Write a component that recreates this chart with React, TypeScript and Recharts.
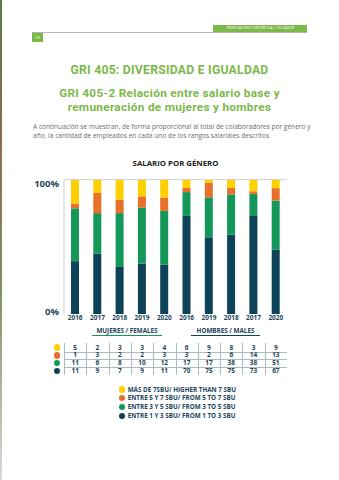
import React from "react";
import { BarChart, Bar, XAxis, YAxis, ReferenceLine } from "recharts";

// ---- DATA (table order, as printed under the chart) ----
const tableLabels = ["2016", "2017", "2018", "2019", "2020", "2016", "2019", "2018", "2017", "2020"];
const yellowVals = [5, 2, 3, 3, 4, 6, 9, 8, 3, 9]; // > 7 SBU
const orangeVals = [1, 3, 2, 2, 3, 3, 2, 6, 14, 13]; // 5 - 7 SBU
const greenVals = [11, 6, 8, 10, 12, 17, 17, 38, 38, 51]; // 3 - 5 SBU
const navyVals = [11, 9, 7, 9, 11, 70, 75, 75, 73, 67]; // 1 - 3 SBU
// the bars in the picture take their values from these table columns
const barColumns = [0, 1, 2, 3, 4, 5, 8, 7, 6, 9];
const groupLabels = ["MUJERES / FEMALES", "HOMBRES / MALES"];
const yTicks = [0, 1];

const seriesNames = [
  "MÁS DE 7SBU/ HIGHER THAN 7 SBU",
  "ENTRE 5 Y 7 SBU/ FROM 5 TO 7 SBU",
  "ENTRE 3 Y 5 SBU/ FROM 3 TO 5 SBU",
  "ENTRE 1 Y 3 SBU/ FROM 1 TO 3 SBU",
];

const YELLOW = "#fdd000";
const ORANGE = "#e8702a";
const GREEN = "#13985a";
const NAVY = "#0e4259";
const TXT = "#1c4559";
const LIME = "#7cb84a";
const colors = [YELLOW, ORANGE, GREEN, NAVY];
const tableRows = [yellowVals, orangeVals, greenVals, navyVals];

const chartData = barColumns.map((c, i) => ({
  key: "b" + i,
  label: tableLabels[i],
  navy: navyVals[c],
  green: greenVals[c],
  orange: orangeVals[c],
  yellow: yellowVals[c],
}));

const FONT = "'Open Sans', 'DejaVu Sans', sans-serif";
const TITLE_FONT = "Roboto, 'Open Sans', sans-serif";
const PLOT_L = 64;
const PLOT_R = 287;
const band = (PLOT_R - PLOT_L) / 10;
const cx = (i: number) => PLOT_L + band * (i + 0.5);

const YTick = (props: any) => {
  const { x, y, payload } = props;
  const v = payload.value;
  return (
    <text
      x={x}
      y={y + (v === 1 ? 4 : -3)}
      textAnchor="end"
      dominantBaseline="central"
      fontFamily={FONT}
      fontWeight={700}
      fontSize={9.5}
      fill={TXT}
    >
      {Math.round(v * 100)}%
    </text>
  );
};

const abs = (o: React.CSSProperties): React.CSSProperties => ({ position: "absolute", ...o });

const centered = (cy: number, size: number, color: string, extra: React.CSSProperties = {}): React.CSSProperties =>
  abs({ left: 0, width: 339, top: cy - (size + 1) / 2, textAlign: "center", color, fontWeight: 700, fontSize: size, lineHeight: `${size + 1}px`, whiteSpace: "nowrap", ...extra });

export default function App() {
  return (
    <div style={abs({ left: 0, top: 0, width: 339, height: 480, background: "#fff", overflow: "hidden", fontFamily: FONT })}>
      {/* page edge */}
      <div style={abs({ left: 0, top: 0, width: 2, height: 480, background: "linear-gradient(#5f7a45, #8a6f50 30%, #7f8f60 60%, #d8d8d8)" })} />
      {/* header */}
      <div style={abs({ left: 32, top: 31.5, width: 275, height: 1.5, background: "#b3b3b3" })} />
      <div style={abs({ left: 213, top: 25.3, width: 94, height: 6.5, background: LIME, color: "#fff", fontSize: 3.6, lineHeight: "6.5px", textAlign: "center", whiteSpace: "nowrap" })}>
        TROPICALFRUIT EXPORT S.A. | ECUADOR
      </div>
      <div style={abs({ left: 32, top: 32.5, width: 11, height: 9, background: LIME, color: "#fff", fontSize: 4, lineHeight: "9px", textAlign: "center" })}>
        50
      </div>
      {/* titles */}
      <div style={centered(71, 12.2, LIME, { fontFamily: TITLE_FONT, letterSpacing: 0.25 })}>GRI 405: DIVERSIDAD E IGUALDAD</div>
      <div style={centered(93.1, 11.8, LIME, { fontFamily: TITLE_FONT, letterSpacing: 0.3 })}>GRI 405-2 Relación entre salario base y</div>
      <div style={centered(107, 11.8, LIME, { fontFamily: TITLE_FONT, letterSpacing: 0.3 })}>remuneración de mujeres y hombres</div>
      <div style={abs({ left: 33, top: 126.7 - 4.2, color: "#6d6d6d", fontSize: 6.6, lineHeight: "8.4px", whiteSpace: "nowrap" })}>
        A continuación se muestran, de forma proporcional al total de colaboradores por género y
      </div>
      <div style={abs({ left: 33, top: 136 - 4.2, color: "#6d6d6d", fontSize: 6.6, lineHeight: "8.4px", whiteSpace: "nowrap" })}>
        año, la cantidad de empleados en cada uno de los rangos salariales descritos
      </div>
      <div style={centered(163.3, 7.8, "#222", { width: 351 })}>SALARIO POR GÉNERO</div>

      {/* chart */}
      <div style={abs({ left: 0, top: 170 })}>
        <BarChart width={339} height={156} data={chartData} stackOffset="expand" margin={{ top: 9.5, right: 52, bottom: 0, left: 0 }} barCategoryGap={0}>
          <ReferenceLine y={1} stroke="#d6d6d6" strokeWidth={1} />
          <XAxis
            dataKey="key"
            height={12}
            axisLine={false}
            tickLine={false}
            tickSize={0}
            tickMargin={1}
            interval={0}
            tickFormatter={(_v: any, i: number) => chartData[i]?.label ?? ""}
            tick={{ fontFamily: FONT, fontWeight: 700, fontSize: 6.5, fill: TXT }}
          />
          <YAxis
            width={64}
            ticks={yTicks}
            domain={[0, 1]}
            tickSize={0}
            tickMargin={5}
            tickLine={false}
            axisLine={{ stroke: "#cfcfcf", strokeWidth: 1 }}
            tick={<YTick />}
          />
          <Bar dataKey="navy" stackId="a" fill={NAVY} barSize={8} isAnimationActive={false} />
          <Bar dataKey="green" stackId="a" fill={GREEN} barSize={8} isAnimationActive={false} />
          <Bar dataKey="orange" stackId="a" fill={ORANGE} barSize={8} isAnimationActive={false} />
          <Bar dataKey="yellow" stackId="a" fill={YELLOW} barSize={8} isAnimationActive={false} />
        </BarChart>
      </div>

      {/* group labels */}
      <div style={abs({ left: 92, top: 327, width: 70, textAlign: "center", color: TXT, fontWeight: 700, fontSize: 6.3, lineHeight: "8px", whiteSpace: "nowrap", borderBottom: `1.2px solid ${GREEN}` })}>
        {groupLabels[0]}
      </div>
      <div style={abs({ left: 191, top: 327, width: 69, textAlign: "center", color: TXT, fontWeight: 700, fontSize: 6.3, lineHeight: "8px", whiteSpace: "nowrap", borderBottom: `1.2px solid ${NAVY}` })}>
        {groupLabels[1]}
      </div>

      {/* data table */}
      {[351.5, 359.2, 367].map((y, i) => (
        <div key={"h" + i} style={abs({ left: 64, top: y, width: 223, height: 1, background: "#a9bcc4" })} />
      ))}
      {tableLabels.map((_, i) => (
        <div key={"v" + i} style={abs({ left: cx(i) - band / 2, top: 343, width: 1, height: 32, background: "#a9bcc4" })} />
      ))}
      {tableRows.map((row, r) => {
        const y = [347.7, 355.3, 363, 371][r];
        return (
          <React.Fragment key={"r" + r}>
            <div style={abs({ left: 57 - 3.3, top: y - 3.3, width: 6.6, height: 6.6, borderRadius: "50%", background: colors[r] })} />
            {row.map((v, i) => (
              <div key={i} style={abs({ left: cx(i) - 10, top: y - 4, width: 20, textAlign: "center", color: TXT, fontWeight: 700, fontSize: 6.5, lineHeight: "8px" })}>
                {v}
              </div>
            ))}
          </React.Fragment>
        );
      })}

      {/* legend */}
      {seriesNames.map((n, i) => {
        const y = [389.5, 398.3, 407, 415.7][i];
        return (
          <React.Fragment key={"l" + i}>
            <div style={abs({ left: 122.3 - 3.2, top: y - 3.2, width: 6.4, height: 6.4, borderRadius: "50%", background: colors[i] })} />
            <div style={abs({ left: 127.7, top: y - 4, color: TXT, fontWeight: 700, fontSize: 6.3, lineHeight: "8px", whiteSpace: "nowrap" })}>{n}</div>
          </React.Fragment>
        );
      })}
    </div>
  );
}
